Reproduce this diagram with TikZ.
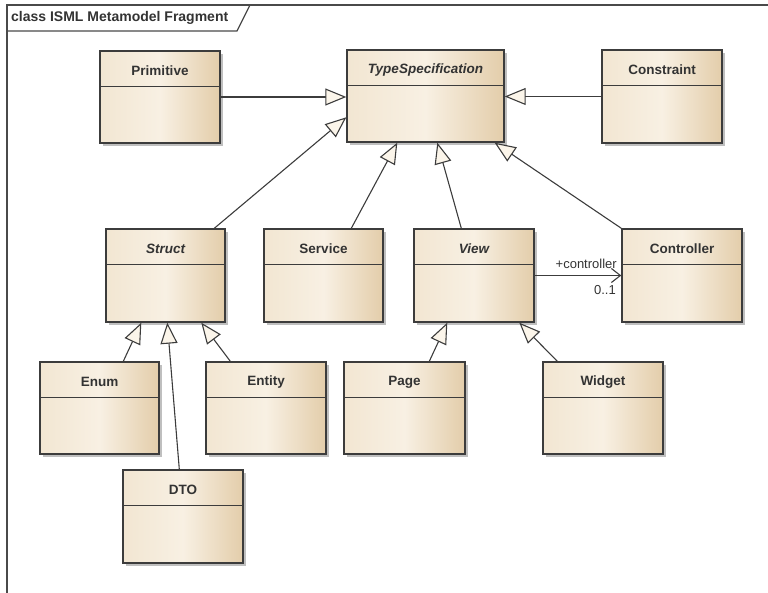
\documentclass[tikz,border=0pt]{standalone}
\usepackage{fontspec}
\setmainfont{Liberation Sans}
\usetikzlibrary{arrows.meta,calc,fit,shadows}

\definecolor{classleft}{HTML}{F2E6D2}
\definecolor{classmid}{HTML}{F8F0E3}
\definecolor{classright}{HTML}{E3CDAA}
\definecolor{edgegray}{HTML}{3C3C3C}
\definecolor{framegray}{HTML}{4A4A4A}
\definecolor{headfill}{HTML}{FBF5EA}

\tikzset{
  classbody/.style={draw=edgegray, line width=1.4pt, inner sep=0pt,
    left color=classleft, right color=classright, middle color=classmid,
    drop shadow={shadow xshift=3pt, shadow yshift=-3pt, fill=black!50, opacity=0.5}},
  classname/.style={font=\fontsize{13.5}{15}\selectfont\bfseries, text=black!80, inner sep=0pt},
  abstractname/.style={classname, font=\fontsize{13.5}{15}\selectfont\bfseries\itshape},
  divider/.style={draw=edgegray, line width=1.3pt},
  gen/.style={draw=edgegray, line width=1.1pt,
    -{Triangle[length=21pt,width=17pt,fill=headfill,line width=1.1pt]}},
  assoc/.style={draw=edgegray, line width=1.1pt,
    -{Straight Barb[length=9pt,width=14pt,line width=1.1pt]}},
  rolelabel/.style={font=\fontsize{13}{15}\selectfont, text=black!80, inner sep=0pt},
}

% #1 name, #2 left, #3 top, #4 right, #5 bottom, #6 name style, #7 class name
\newcommand{\classbox}[7]{%
  \node[classbody, fit={(#2,#3) (#4,#5)}] (#1) {};
  \node[#6] (#1-title) at ($(#1.north)+(0,20.5)$) {#7};
  \draw[divider] ($(#1.north west)+(0,36)$) -- ($(#1.north east)+(0,36)$);
}

\begin{document}
\begin{tikzpicture}[x=1pt, y=-1pt]
  \useasboundingbox (0,0) rectangle (768,593);
  \clip (0,0) rectangle (768,593);

  % diagram frame and its name tab
  \draw[framegray, line width=1.8pt] (7,600) -- (7,5) -- (780,5);
  \draw[framegray, line width=1.2pt] (7,31) -- (237,31) -- (250,5);
  \node[anchor=west, font=\fontsize{14}{16}\selectfont\bfseries, text=black!80, inner sep=0pt]
    (frametitle) at (11,17.5) {class ISML Metamodel Fragment};

  % classes
  \classbox{Primitive}{100}{51}{220}{143}{classname}{Primitive}
  \classbox{TypeSpec}{347}{50}{504}{142}{abstractname}{TypeSpecification}
  \classbox{Constraint}{602}{50}{722}{143}{classname}{Constraint}
  \classbox{Struct}{106}{229}{225}{322}{abstractname}{Struct}
  \classbox{Service}{264}{229}{383}{322}{classname}{Service}
  \classbox{View}{414}{229}{534}{322}{abstractname}{View}
  \classbox{Controller}{622}{229}{742}{322}{classname}{Controller}
  \classbox{Enum}{40}{362}{159}{454}{classname}{Enum}
  \classbox{Entity}{206}{362}{326}{454}{classname}{Entity}
  \classbox{Page}{344}{362}{465}{454}{classname}{Page}
  \classbox{Widget}{543}{362}{663}{454}{classname}{Widget}
  \classbox{DTO}{123}{470}{243}{563}{classname}{DTO}

  % generalizations towards TypeSpecification
  \draw[gen] (Primitive.east) -- (Primitive.east -| TypeSpec.west);
  \draw[gen] (Constraint.west) -- (Constraint.west -| TypeSpec.east);
  \draw[gen] ($(Struct.north west)+(109,0)$) -- ($(TypeSpec.north west)+(0,68)$);
  \draw[gen] ($(Service.north west)+(88,0)$) -- ($(TypeSpec.south west)+(51,0)$);
  \draw[gen] ($(View.north west)+(48,0)$) -- ($(TypeSpec.south west)+(91,0)$);
  \draw[gen] (Controller.north west) -- ($(TypeSpec.south east)+(-10,0)$);

  % generalizations towards Struct
  \draw[gen] ($(Enum.north west)+(84,0)$) -- ($(Struct.south west)+(36,0)$);
  \draw[gen] ($(DTO.north west)+(57,0)$) -- ($(Struct.south west)+(62,0)$);
  \draw[gen] ($(Entity.north west)+(25,0)$) -- ($(Struct.south west)+(96,0)$);

  % generalizations towards View
  \draw[gen] ($(Page.north west)+(86,0)$) -- ($(View.south west)+(34,0)$);
  \draw[gen] ($(Widget.north west)+(15,0)$) -- ($(View.south west)+(106,0)$);

  % association View -> Controller
  \draw[assoc] (View.east) -- (Controller.west)
    node[rolelabel, pos=1, anchor=south east, xshift=-4pt, yshift=6pt] (rolename) {+controller}
    node[rolelabel, pos=1, anchor=north east, xshift=-5pt, yshift=-9pt] (multiplicity) {0..1};
\end{tikzpicture}
\end{document}
